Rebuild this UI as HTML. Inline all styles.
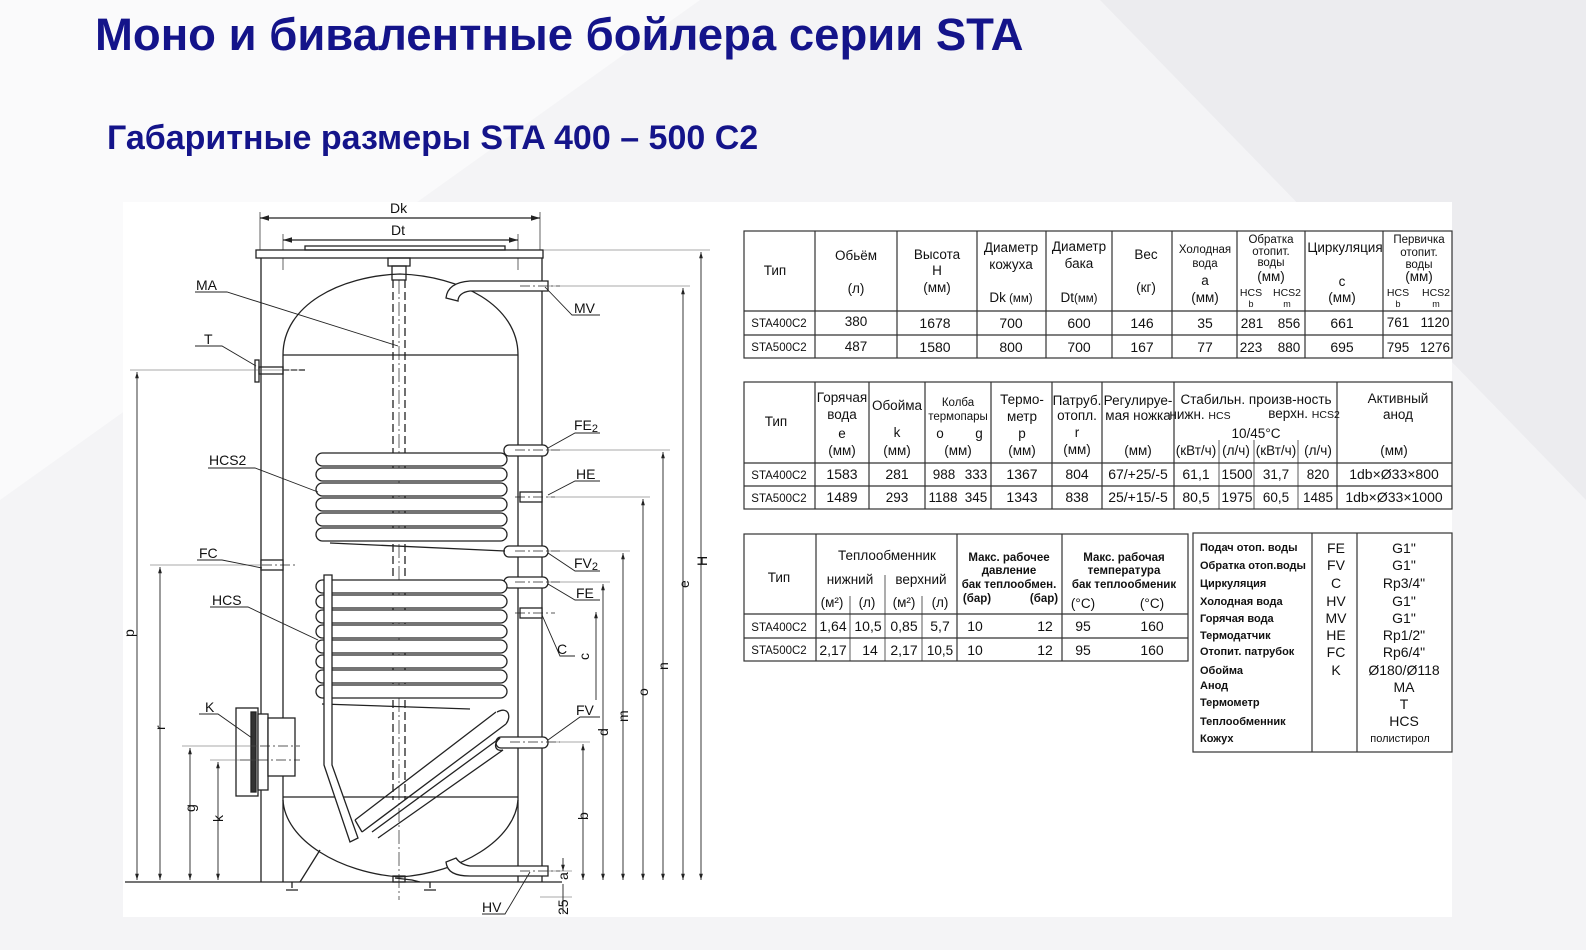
<!DOCTYPE html>
<html><head><meta charset="utf-8"><style>
html,body{margin:0;padding:0;width:1586px;height:950px;overflow:hidden;background:#f3f3f5;}
svg{display:block}
text{font-family:"Liberation Sans",sans-serif;fill:#111}
.t{font-size:13.5px}
.s{font-size:11.5px}
.l{font-size:14px}
.b{font-weight:bold}
</style></head><body>
<svg width="1586" height="950" viewBox="0 0 1586 950" xmlns="http://www.w3.org/2000/svg">
<defs>
<marker id="a" viewBox="0 0 10 10" refX="10" refY="5" markerWidth="7" markerHeight="7" orient="auto-start-reverse"><path d="M0,2 L10,5 L0,8z" fill="#222"/></marker>
</defs>
<rect x="0" y="0" width="1586" height="950" fill="#f4f4f6"/>
<polygon points="0,0 700,0 0,500" fill="#fafafb"/>
<polygon points="1100,0 1586,0 1586,500" fill="#ececef"/>
<text x="95" y="50" style="font-size:45.5px;font-weight:bold;fill:#14148a">Моно и бивалентные бойлера серии STA</text>
<text x="107" y="149" style="font-size:34px;font-weight:bold;fill:#14148a">Габаритные размеры STA 400 – 500 C2</text>
<rect x="123" y="202" width="1329" height="715" fill="#fff"/>

<g stroke="#222" stroke-width="1.3" fill="none">
<line x1="260" y1="218" x2="540" y2="218" marker-start="url(#a)" marker-end="url(#a)"/>
<line x1="283" y1="240" x2="518" y2="240" marker-start="url(#a)" marker-end="url(#a)"/>
<line x1="260" y1="212" x2="260" y2="250" stroke-width="0.7"/>
<line x1="540" y1="212" x2="540" y2="250" stroke-width="0.7"/>
<line x1="283" y1="234" x2="283" y2="270" stroke-width="0.7"/>
<line x1="518" y1="234" x2="518" y2="270" stroke-width="0.7"/>
<rect x="256" y="250" width="287" height="8" fill="#fff"/>
<rect x="305" y="246" width="200" height="4"/>
<line x1="261" y1="258" x2="261" y2="882"/>
<line x1="542" y1="258" x2="542" y2="882"/>
<path d="M283,882 L283,355 C283,305 340,276 400,274 C460,276 518,305 518,355 L518,882"/>
<line x1="283" y1="355" x2="518" y2="355"/>
<line x1="283" y1="797" x2="518" y2="797"/>
<path d="M283,800 C285,840 340,873 400,877 C460,873 515,840 518,800"/>
<line x1="125" y1="882" x2="562" y2="882"/>
<path d="M292,882 L292,888 M286,890 L298,890 M430,882 L430,888 M424,890 L436,890"/>
<path d="M300,882 L320,850 M395,878 L412,880 L420,882"/>
<rect x="388" y="258" width="22" height="8"/>
<rect x="392" y="266" width="14" height="14"/>
<line x1="393" y1="280" x2="393" y2="800" stroke-dasharray="8,4"/>
<line x1="405" y1="280" x2="405" y2="800" stroke-dasharray="8,4"/>
<line x1="399" y1="280" x2="399" y2="900" stroke-width="0.7" stroke-dasharray="14,3,2,3"/>
<rect x="393" y="876" width="12" height="6"/>
<path d="M446,298 C447,288 455,282 470,281 L548,281 L548,291 L470,291 C462,292 458,296 458,301 Z" fill="#fff"/>
<path d="M446,862 C447,872 455,876 470,876 L548,876 L548,866 L470,866 C462,865 458,861 456,858 Z" fill="#fff"/>
<rect x="255" y="360" width="4" height="22" fill="#fff"/>
<rect x="259" y="367" width="24" height="7"/>
<line x1="283" y1="370" x2="305" y2="370" stroke-dasharray="6,2"/>
<rect x="261" y="560" width="22" height="10" fill="#fff"/>
<rect x="236" y="708" width="22" height="88" fill="#fff"/>
<rect x="251" y="712" width="5" height="80" fill="#333"/>
<rect x="258" y="714" width="10" height="76" fill="#fff"/>
<rect x="268" y="718" width="27" height="58" fill="#fff"/>
<rect x="504" y="445" width="44" height="11" rx="5" fill="#fff"/>
<rect x="520" y="492" width="22" height="10" fill="#fff"/>
<rect x="504" y="546" width="44" height="11" rx="5" fill="#fff"/>
<rect x="504" y="577" width="44" height="11" rx="5" fill="#fff"/>
<rect x="520" y="608" width="22" height="10" fill="#fff"/>
<rect x="496" y="737" width="52" height="11" rx="5" fill="#fff"/>
<rect x="316" y="453" width="191" height="13" rx="6.5" fill="#fff"/>
<rect x="316" y="468" width="191" height="13" rx="6.5" fill="#fff"/>
<rect x="316" y="483" width="191" height="13" rx="6.5" fill="#fff"/>
<rect x="316" y="498" width="191" height="13" rx="6.5" fill="#fff"/>
<rect x="316" y="513" width="191" height="13" rx="6.5" fill="#fff"/>
<rect x="316" y="528" width="191" height="13" rx="6.5" fill="#fff"/>
<line x1="330" y1="543" x2="505" y2="551"/>
<rect x="316" y="580" width="191" height="13" rx="6.5" fill="#fff"/>
<rect x="316" y="595" width="191" height="13" rx="6.5" fill="#fff"/>
<rect x="316" y="610" width="191" height="13" rx="6.5" fill="#fff"/>
<rect x="316" y="625" width="191" height="13" rx="6.5" fill="#fff"/>
<rect x="316" y="640" width="191" height="13" rx="6.5" fill="#fff"/>
<rect x="316" y="655" width="191" height="13" rx="6.5" fill="#fff"/>
<rect x="316" y="670" width="191" height="13" rx="6.5" fill="#fff"/>
<rect x="316" y="685" width="191" height="13" rx="6.5" fill="#fff"/>
<path d="M322,704 L470,709"/>
<path d="M496,712 L355,820 M506,724 L362,832 M500,738 L372,832 M503,750 L378,838" />
<path d="M497,712 C508,706 512,716 506,724 M500,738 C492,745 496,752 503,750"/>
<path d="M324,575 L324,765 L350,842 L358,838 L332,765 L332,575 Z" fill="#fff"/>
<line x1="355" y1="820" x2="362" y2="832"/>
<g stroke-width="0.8" stroke-dasharray="10,3,2,3">
<line x1="520" y1="286" x2="560" y2="286"/>
<line x1="515" y1="450" x2="560" y2="450"/>
<line x1="515" y1="497" x2="555" y2="497"/>
<line x1="515" y1="551" x2="560" y2="551"/>
<line x1="515" y1="582" x2="560" y2="582"/>
<line x1="515" y1="613" x2="555" y2="613"/>
<line x1="510" y1="742" x2="560" y2="742"/>
<line x1="520" y1="871" x2="560" y2="871"/>
<line x1="262" y1="565" x2="295" y2="565"/>
<line x1="260" y1="746" x2="300" y2="746"/>
<line x1="240" y1="760" x2="300" y2="760"/>
</g>
<g stroke-width="0.6" stroke="#555">
<line x1="543" y1="250" x2="710" y2="250"/>
<line x1="548" y1="286" x2="690" y2="286"/>
<line x1="548" y1="450" x2="670" y2="450"/>
<line x1="548" y1="497" x2="650" y2="497"/>
<line x1="548" y1="551" x2="630" y2="551"/>
<line x1="548" y1="582" x2="610" y2="582"/>
<line x1="548" y1="742" x2="590" y2="742"/>
<line x1="548" y1="871" x2="572" y2="871"/>
<line x1="540" y1="897" x2="572" y2="897"/>
<line x1="130" y1="370" x2="300" y2="370"/>
<line x1="150" y1="565" x2="262" y2="565"/>
<line x1="182" y1="746" x2="258" y2="746"/>
<line x1="210" y1="760" x2="258" y2="760"/>
</g>
<g stroke-width="0.9">
<line x1="701" y1="252" x2="701" y2="880" marker-start="url(#a)" marker-end="url(#a)"/>
<line x1="683" y1="288" x2="683" y2="880" marker-start="url(#a)" marker-end="url(#a)"/>
<line x1="663" y1="452" x2="663" y2="880" marker-start="url(#a)" marker-end="url(#a)"/>
<line x1="643" y1="499" x2="643" y2="880" marker-start="url(#a)" marker-end="url(#a)"/>
<line x1="623" y1="553" x2="623" y2="880" marker-start="url(#a)" marker-end="url(#a)"/>
<line x1="603" y1="584" x2="603" y2="880" marker-start="url(#a)" marker-end="url(#a)"/>
<line x1="596" y1="612" x2="596" y2="700" marker-start="url(#a)"/>
<line x1="583" y1="744" x2="583" y2="880" marker-start="url(#a)" marker-end="url(#a)"/>
<line x1="563" y1="858" x2="563" y2="871" marker-end="url(#a)"/>
<line x1="563" y1="884" x2="563" y2="914"/>
<line x1="137" y1="372" x2="137" y2="880" marker-start="url(#a)" marker-end="url(#a)"/>
<line x1="160" y1="567" x2="160" y2="880" marker-start="url(#a)" marker-end="url(#a)"/>
<line x1="190" y1="748" x2="190" y2="880" marker-start="url(#a)" marker-end="url(#a)"/>
<line x1="218" y1="762" x2="218" y2="880" marker-start="url(#a)" marker-end="url(#a)"/>
</g>
<g stroke-width="0.9">
<path d="M195,292 L227,292 L398,346"/>
<path d="M195,346 L222,346 L256,366"/>
<path d="M208,468 L255,468 L318,492"/>
<path d="M197,560 L222,560 L262,568"/>
<path d="M210,607 L248,607 L318,640"/>
<path d="M199,714 L218,714 L252,738"/>
<path d="M600,315 L572,315 L545,287"/>
<path d="M600,433 L575,433 L548,448"/>
<path d="M600,481 L575,481 L548,495"/>
<path d="M600,571 L575,571 L548,553"/>
<path d="M600,600 L575,600 L548,584"/>
<path d="M575,656 L560,656 L542,615"/>
<path d="M600,717 L580,717 L548,740"/>
<path d="M482,914 L505,914 L530,872"/>
</g>
</g>
<g class="l">
<text x="390" y="213">Dk</text>
<text x="391" y="235">Dt</text>
<text x="196" y="290">MA</text>
<text x="204" y="344">T</text>
<text x="209" y="465">HCS2</text>
<text x="199" y="558">FC</text>
<text x="212" y="605">HCS</text>
<text x="205" y="712">K</text>
<text x="574" y="313">MV</text>
<text x="574" y="430">FE<tspan style="font-size:11px" dy="2">2</tspan></text>
<text x="576" y="479">HE</text>
<text x="574" y="568">FV<tspan style="font-size:11px" dy="2">2</tspan></text>
<text x="576" y="598">FE</text>
<text x="557" y="654">C</text>
<text x="576" y="715">FV</text>
<text x="482" y="912">HV</text>
</g>
<g class="l">
<text transform="translate(707,566) rotate(-90)">H</text>
<text transform="translate(689,588) rotate(-90)">e</text>
<text transform="translate(668,670) rotate(-90)">n</text>
<text transform="translate(648,696) rotate(-90)">o</text>
<text transform="translate(628,722) rotate(-90)">m</text>
<text transform="translate(608,736) rotate(-90)">d</text>
<text transform="translate(589,660) rotate(-90)">c</text>
<text transform="translate(588,820) rotate(-90)">b</text>
<text transform="translate(568,880) rotate(-90)">a</text>
<text transform="translate(568,915) rotate(-90)">25</text>
<text transform="translate(134,637) rotate(-90)">p</text>
<text transform="translate(165,730) rotate(-90)">r</text>
<text transform="translate(195,812) rotate(-90)">g</text>
<text transform="translate(223,822) rotate(-90)">k</text>
</g>

<g stroke="#333" stroke-width="1.2" fill="none">
<rect x="744" y="231" width="708" height="127"/>
<line x1="744" y1="311" x2="1452" y2="311"/>
<line x1="744" y1="335" x2="1452" y2="335"/>
<path d="M815,231V358 M897,231V358 M977,231V358 M1046,231V358 M1112,231V358 M1172,231V358 M1237,231V358 M1305,231V358 M1383,231V358"/>
</g>
<g class="t" text-anchor="middle">
<text x="775" y="275">Тип</text>
<text x="856" y="260">Обьём</text><text x="856" y="293">(л)</text>
<text x="937" y="259">Высота</text><text x="937" y="275">H</text><text x="937" y="292">(мм)</text>
<text x="1011" y="252">Диаметр</text><text x="1011" y="269">кожуха</text><text x="1011" y="302">Dk<tspan class="s"> (мм)</tspan></text>
<text x="1079" y="251">Диаметр</text><text x="1079" y="268">бака</text><text x="1079" y="302">Dt<tspan class="s">(мм)</tspan></text>
<text x="1146" y="259">Вес</text><text x="1146" y="292">(кг)</text>
<text x="1205" y="253" class="s">Холодная</text><text x="1205" y="267" class="s">вода</text><text x="1205" y="285">a</text><text x="1205" y="302">(мм)</text>
<text x="1271" y="243" class="s">Обратка</text><text x="1271" y="255" class="s">отопит.</text><text x="1271" y="266" class="s">воды</text><text x="1271" y="281">(мм)</text>
<text x="1251" y="296" class="s" style="font-size:10.5px">HCS</text><text x="1287" y="296" class="s" style="font-size:10.5px">HCS2</text>
<text x="1251" y="307" style="font-size:9px">b</text><text x="1287" y="307" style="font-size:9px">m</text>
<text x="1345" y="252">Циркуляция</text><text x="1342" y="286">c</text><text x="1342" y="302">(мм)</text>
<text x="1419" y="243" class="s">Первичка</text><text x="1419" y="256" class="s">отопит.</text><text x="1419" y="268" class="s">воды</text><text x="1419" y="281">(мм)</text>
<text x="1398" y="296" style="font-size:10.5px">HCS</text><text x="1436" y="296" style="font-size:10.5px">HCS2</text>
<text x="1398" y="307" style="font-size:9px">b</text><text x="1436" y="307" style="font-size:9px">m</text>
<text x="779" y="327" class="s">STA400C2</text><text x="779" y="351" class="s">STA500C2</text>
<text x="856" y="326">380</text><text x="856" y="351">487</text>
<text x="935" y="328" class="l">1678</text><text x="935" y="352" class="l">1580</text>
<text x="1011" y="328" class="l">700</text><text x="1011" y="352" class="l">800</text>
<text x="1079" y="328" class="l">600</text><text x="1079" y="352" class="l">700</text>
<text x="1142" y="328" class="l">146</text><text x="1142" y="352" class="l">167</text>
<text x="1205" y="328" class="l">35</text><text x="1205" y="352" class="l">77</text>
<text x="1252" y="328">281</text><text x="1289" y="328">856</text>
<text x="1251" y="352">223</text><text x="1289" y="352">880</text>
<text x="1342" y="328" class="l">661</text><text x="1342" y="352" class="l">695</text>
<text x="1398" y="327">761</text><text x="1435" y="327">1120</text>
<text x="1398" y="352">795</text><text x="1435" y="352">1276</text>
</g>

<g stroke="#333" stroke-width="1.2" fill="none">
<rect x="744" y="382" width="708" height="127"/>
<line x1="744" y1="463" x2="1452" y2="463"/>
<line x1="744" y1="486" x2="1452" y2="486"/>
<path d="M815,382V509 M869,382V509 M925,382V509 M991,382V509 M1052,382V509 M1102,382V509 M1174,382V509 M1337,382V509"/>
<path d="M1219,440V509 M1254,440V509 M1298,440V509" stroke-width="0.8"/>
</g>
<g class="t" text-anchor="middle">
<text x="776" y="426">Тип</text>
<text x="842" y="402">Горячая</text><text x="842" y="419">вода</text><text x="842" y="438">e</text><text x="842" y="455">(мм)</text>
<text x="897" y="410">Обойма</text><text x="897" y="437">k</text><text x="897" y="455">(мм)</text>
<text x="958" y="406" class="s">Колба</text><text x="958" y="420" class="s">термопары</text><text x="940" y="438">o</text><text x="979" y="438">g</text><text x="958" y="455">(мм)</text>
<text x="1022" y="404">Термо-</text><text x="1022" y="421">метр</text><text x="1022" y="438">p</text><text x="1022" y="455">(мм)</text>
<text x="1077" y="405">Патруб.</text><text x="1077" y="420">отопл.</text><text x="1077" y="437">r</text><text x="1077" y="454">(мм)</text>
<text x="1138" y="405">Регулируе-</text><text x="1138" y="420">мая ножка</text><text x="1138" y="455">(мм)</text>
<text x="1256" y="404">Стабильн. произв-ность</text>
<text x="1200" y="419">нижн. <tspan class="s" style="font-size:10.5px">HCS</tspan></text><text x="1304" y="418">верхн. <tspan style="font-size:10.5px">HCS2</tspan></text>
<text x="1256" y="438">10/45°C</text>
<text x="1196" y="455">(кВт/ч)</text><text x="1236" y="455">(л/ч)</text><text x="1276" y="455">(кВт/ч)</text><text x="1318" y="455">(л/ч)</text>
<text x="1398" y="403">Активный</text><text x="1398" y="419">анод</text><text x="1394" y="455">(мм)</text>
<text x="779" y="479" class="s">STA400C2</text><text x="779" y="502" class="s">STA500C2</text>
<text x="842" y="479" class="l">1583</text><text x="842" y="502" class="l">1489</text>
<text x="897" y="479" class="l">281</text><text x="897" y="502">293</text>
<text x="944" y="479">988</text><text x="976" y="479">333</text>
<text x="943" y="502">1188</text><text x="976" y="502">345</text>
<text x="1022" y="479" class="l">1367</text><text x="1022" y="502" class="l">1343</text>
<text x="1077" y="479" class="l">804</text><text x="1077" y="502" class="l">838</text>
<text x="1138" y="479" class="l">67/+25/-5</text><text x="1138" y="502" class="l">25/+15/-5</text>
<text x="1196" y="479" class="l">61,1</text><text x="1196" y="502" class="l">80,5</text>
<text x="1237" y="479" class="l">1500</text><text x="1237" y="502" class="l">1975</text>
<text x="1276" y="479">31,7</text><text x="1276" y="502">60,5</text>
<text x="1318" y="479">820</text><text x="1318" y="502">1485</text>
<text x="1394" y="479" class="l">1db×Ø33×800</text><text x="1394" y="502" class="l">1db×Ø33×1000</text>
</g>

<g stroke="#333" stroke-width="1.2" fill="none">
<rect x="744" y="534" width="444" height="127"/>
<line x1="744" y1="614" x2="1188" y2="614"/>
<line x1="744" y1="638" x2="1188" y2="638"/>
<path d="M816,534V661 M957,534V661 M1062,534V661"/>
<path d="M850,596V661 M885,575V661 M922,596V661" stroke-width="0.8"/>
</g>
<g class="t" text-anchor="middle">
<text x="779" y="582">Тип</text>
<text x="887" y="560">Теплообменник</text>
<text x="850" y="584">нижний</text><text x="921" y="584">верхний</text>
<text x="832" y="607">(м²)</text><text x="867" y="607">(л)</text><text x="904" y="607">(м²)</text><text x="940" y="607">(л)</text>
<text x="1009" y="561" class="s b">Макс. рабочее</text><text x="1009" y="574" class="s b">давление</text>
<text x="1009" y="588" class="s b">бак теплообмен.</text>
<text x="977" y="602" class="s b">(бар)</text><text x="1044" y="602" class="s b">(бар)</text>
<text x="1124" y="561" class="s b">Макс. рабочая</text><text x="1124" y="574" class="s b">температура</text>
<text x="1124" y="588" class="s b">бак   теплообменик</text>
<text x="1083" y="608">(°C)</text><text x="1152" y="608">(°C)</text>
<text x="779" y="631" class="s">STA400C2</text><text x="779" y="654" class="s">STA500C2</text>
<text x="833" y="631" class="l">1,64</text><text x="868" y="631" class="l">10,5</text><text x="904" y="631" class="l">0,85</text><text x="940" y="631" class="l">5,7</text>
<text x="833" y="655" class="l">2,17</text><text x="870" y="655" class="l">14</text><text x="904" y="655" class="l">2,17</text><text x="940" y="655">10,5</text>
<text x="975" y="631" class="l">10</text><text x="1045" y="631" class="l">12</text><text x="1083" y="631" class="l">95</text><text x="1152" y="631" class="l">160</text>
<text x="975" y="655" class="l">10</text><text x="1045" y="655" class="l">12</text><text x="1083" y="655" class="l">95</text><text x="1152" y="655" class="l">160</text>
</g>

<g stroke="#333" stroke-width="1.2" fill="none">
<rect x="1193" y="533" width="259" height="219"/>
<path d="M1312,533V752 M1357,533V752"/>
</g>
<g class="s b" style="font-size:11px">
<text x="1200" y="551">Подач отоп. воды</text>
<text x="1200" y="569">Обратка отоп.воды</text>
<text x="1200" y="587">Циркуляция</text>
<text x="1200" y="605">Холодная вода</text>
<text x="1200" y="622">Горячая вода</text>
<text x="1200" y="639">Термодатчик</text>
<text x="1200" y="655">Отопит. патрубок</text>
<text x="1200" y="674">Обойма</text>
<text x="1200" y="689">Анод</text>
<text x="1200" y="706">Термометр</text>
<text x="1200" y="725">Теплообменник</text>
<text x="1200" y="742">Кожух</text>
</g>
<g class="l" text-anchor="middle">
<text x="1336" y="553">FE</text><text x="1336" y="570">FV</text><text x="1336" y="588">C</text><text x="1336" y="606">HV</text>
<text x="1336" y="623">MV</text><text x="1336" y="640">HE</text><text x="1336" y="657">FC</text><text x="1336" y="675">K</text>
<text x="1404" y="553">G1"</text><text x="1404" y="570">G1"</text><text x="1404" y="588">Rp3/4"</text><text x="1404" y="606">G1"</text>
<text x="1404" y="623">G1"</text><text x="1404" y="640">Rp1/2"</text><text x="1404" y="657">Rp6/4"</text><text x="1404" y="675">Ø180/Ø118</text>
<text x="1404" y="692">MA</text><text x="1404" y="709">T</text><text x="1404" y="726">HCS</text>
<text x="1400" y="742" style="font-size:11px">полистирол</text>
</g>
</svg>
</body></html>
